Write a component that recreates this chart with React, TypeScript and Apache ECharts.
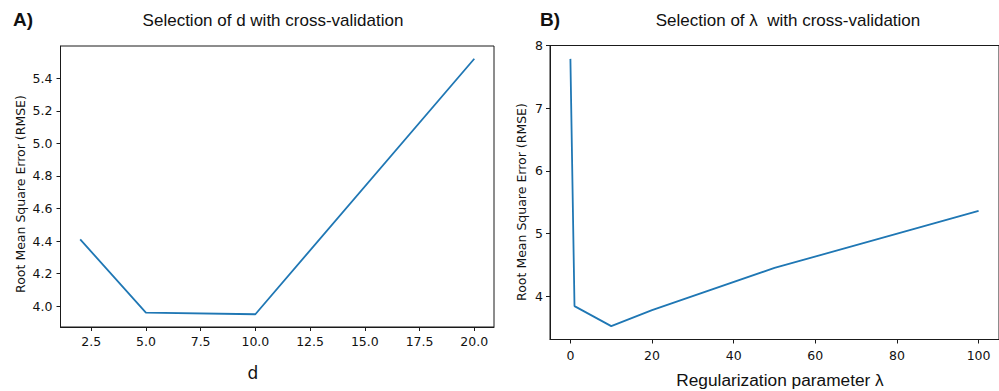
import { useEffect, useRef } from "react";
import * as echarts from "echarts";

// Panel A: polynomial degree d vs cross-validated RMSE
const dValues = [2, 5, 10, 20];
const dRmse = [4.41, 3.96, 3.95, 5.52];
const dTicksX = [2.5, 5, 7.5, 10, 12.5, 15, 17.5, 20];
const dTicksY = [4.0, 4.2, 4.4, 4.6, 4.8, 5.0, 5.2, 5.4];

// Panel B: regularization parameter lambda vs cross-validated RMSE
const lambdaValues = [0, 1, 10, 20, 50, 100];
const lambdaRmse = [7.79, 3.84, 3.52, 3.775, 4.45, 5.36];
const lambdaTicksX = [0, 20, 40, 60, 80, 100];
const lambdaTicksY = [4, 5, 6, 7, 8];

const LINE = "#1f77b4";
const AXIS = "#1a1a1a";
const TICK_FONT = "DejaVu Sans";
const TITLE_FONT = "Liberation Sans";

// 5% padding on each side of the data range
function padded(arr: number[]): [number, number] {
  const lo = Math.min(...arr);
  const hi = Math.max(...arr);
  const r = hi - lo;
  return [lo - 0.05 * r, hi + 0.05 * r];
}

function valueAxis(
  gridIndex: number,
  range: [number, number],
  ticks: number[],
  fmt: (v: number) => string,
  margin: number
) {
  return {
    type: "value" as const,
    gridIndex,
    min: range[0],
    max: range[1],
    axisLine: { show: true, onZero: false, lineStyle: { color: AXIS, width: 1 } },
    axisTick: {
      show: true,
      inside: false,
      length: 4,
      customValues: ticks,
      lineStyle: { color: AXIS, width: 1 },
    },
    axisLabel: {
      show: true,
      customValues: ticks,
      formatter: (v: number) => fmt(v),
      color: "#111",
      fontFamily: TICK_FONT,
      fontSize: 12.5,
      margin,
    },
    splitLine: { show: false },
  };
}

function label(
  text: string,
  x: number,
  y: number,
  font: string,
  rotation = 0
) {
  return {
    type: "text" as const,
    x,
    y,
    rotation,
    style: {
      text,
      font,
      fill: "#111",
      textAlign: "center",
      textVerticalAlign: "middle",
    },
  };
}

export default function App() {
  const ref = useRef<HTMLDivElement>(null);

  useEffect(() => {
    if (!ref.current) return;
    const chart = echarts.init(ref.current, undefined, { renderer: "svg" });

    const xA = padded(dValues);
    const yA = padded(dRmse);
    const xB = padded(lambdaValues);
    const yB = padded(lambdaRmse);

    chart.setOption({
      animation: false,
      backgroundColor: "#ffffff",
      grid: [
        {
          left: 60.5,
          top: 46,
          width: 433.5,
          height: 281,
          show: true,
          borderColor: AXIS,
          borderWidth: 1,
          backgroundColor: "transparent",
        },
        {
          left: 550,
          top: 45.5,
          width: 472,
          height: 294,
          show: true,
          borderColor: AXIS,
          borderWidth: 1,
          backgroundColor: "transparent",
        },
      ],
      xAxis: [
        valueAxis(0, xA, dTicksX, (v) => v.toFixed(1), 8),
        valueAxis(1, xB, lambdaTicksX, (v) => String(Math.round(v)), 9),
      ],
      yAxis: [
        valueAxis(0, yA, dTicksY, (v) => v.toFixed(1), 8),
        valueAxis(1, yB, lambdaTicksY, (v) => String(Math.round(v)), 7),
      ],
      series: [
        {
          type: "line",
          xAxisIndex: 0,
          yAxisIndex: 0,
          data: dValues.map((d, i) => [d, dRmse[i]]),
          symbol: "none",
          lineStyle: { color: LINE, width: 1.8 },
        },
        {
          type: "line",
          xAxisIndex: 1,
          yAxisIndex: 1,
          data: lambdaValues.map((l, i) => [l, lambdaRmse[i]]),
          symbol: "none",
          lineStyle: { color: LINE, width: 1.8 },
        },
      ],
      graphic: [
        label("A)", 23, 19, `bold 19px "${TITLE_FONT}"`),
        label("Selection of d with cross-validation", 273, 20, `17px "${TITLE_FONT}"`),
        label("B)", 550, 19, `bold 19px "${TITLE_FONT}"`),
        label("Selection of λ  with cross-validation", 788, 20, `17px "${TITLE_FONT}"`),
        label("d", 253, 373, `17px "${TICK_FONT}"`),
        label("Regularization parameter λ", 780, 380, `17.3px "${TITLE_FONT}"`),
        label("Root Mean Square Error (RMSE)", 20, 194, `12.5px "${TICK_FONT}"`, Math.PI / 2),
        label("Root Mean Square Error (RMSE)", 521, 202, `12.5px "${TICK_FONT}"`, Math.PI / 2),
      ],
    });

    return () => chart.dispose();
  }, []);

  return (
    <div
      ref={ref}
      style={{ position: "fixed", left: 0, top: 0, width: 999, height: 391 }}
    />
  );
}
